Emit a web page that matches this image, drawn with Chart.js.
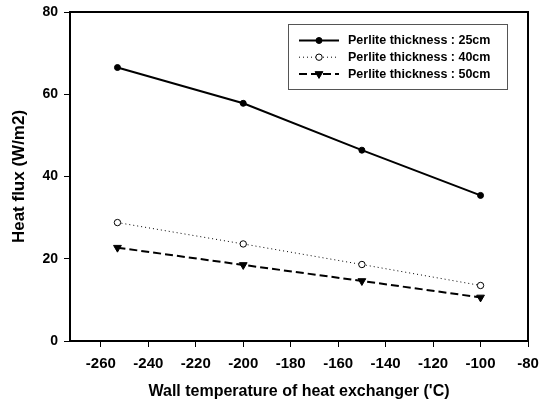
<!DOCTYPE html>
<html>
<head>
<meta charset="utf-8">
<script src="https://cdn.jsdelivr.net/npm/chart.js@4/dist/chart.umd.min.js"></script>
<style>
html,body{margin:0;padding:0;background:#fff;}
#wrap{width:544px;height:404px;position:relative;}
</style>
</head>
<body>
<div id="wrap"><canvas id="c" width="544" height="404"></canvas></div>
<script>
const temps = [-253, -200, -150, -100];
const flux25 = [66.5, 57.8, 46.4, 35.4];
const flux40 = [28.8, 23.6, 18.6, 13.5];
const flux50 = [22.7, 18.5, 14.6, 10.6];
const seriesLabels = ['Perlite thickness : 25cm', 'Perlite thickness : 40cm', 'Perlite thickness : 50cm'];
const xTicks = [-260, -240, -220, -200, -180, -160, -140, -120, -100, -80];
const yTicks = [0, 20, 40, 60, 80];
const xTitle = "Wall temperature of heat exchanger ('C)";
const yTitle = 'Heat flux (W/m2)';

const FONT = 'Liberation Sans, Arial, sans-serif';

function pts(ys){ return temps.map((t,i)=>({x:t,y:ys[i]})); }

const frameLegend = {
  id: 'frameLegend',
  afterDraw(chart){
    const ctx = chart.ctx, a = chart.chartArea;
    ctx.save();
    ctx.strokeStyle = '#000';
    ctx.lineWidth = 2;
    ctx.strokeRect(a.left, a.top, a.right - a.left, a.bottom - a.top);
    // legend box
    const bx = 288, by = 24, bw = 219, bh = 65;
    ctx.lineWidth = 1;
    ctx.strokeStyle = '#555';
    ctx.fillStyle = '#fff';
    ctx.fillRect(bx, by, bw, bh);
    ctx.strokeRect(bx + 0.5, by + 0.5, bw, bh);
    chart.data.datasets.forEach((ds, i) => {
      const y = 40.5 + i * 16.7;
      ctx.save();
      ctx.strokeStyle = '#000';
      ctx.lineWidth = ds.borderWidth;
      ctx.setLineDash(ds.borderDash || []);
      ctx.beginPath();
      ctx.moveTo(299, y);
      ctx.lineTo(339, y);
      ctx.stroke();
      ctx.restore();
      const o = chart.getDatasetMeta(i).data[0].options;
      ctx.save();
      ctx.fillStyle = o.backgroundColor; ctx.strokeStyle = o.borderColor; ctx.lineWidth = o.borderWidth;
      Chart.helpers.drawPoint(ctx, {pointStyle:o.pointStyle, rotation:o.rotation, radius:o.radius, borderWidth:o.borderWidth}, 319, y);
      ctx.restore();
      ctx.fillStyle = '#000';
      ctx.font = 'bold 12.5px ' + FONT;
      ctx.textBaseline = 'middle';
      ctx.textAlign = 'left';
      ctx.fillText(ds.label, 348, y + 0.5);
    });
    ctx.restore();
  }
};

new Chart(document.getElementById('c'), {
  type: 'line',
  data: {
    datasets: [
      { label: seriesLabels[0], data: pts(flux25), borderColor:'#000', backgroundColor:'#000', borderWidth:2,
        pointStyle:'circle', pointRadius:3, pointBackgroundColor:'#000', pointBorderColor:'#000', pointBorderWidth:1 },
      { label: seriesLabels[1], data: pts(flux40), borderColor:'#000', backgroundColor:'#fff', borderWidth:1, borderDash:[1,3],
        pointStyle:'circle', pointRadius:3.2, pointBackgroundColor:'#fff', pointBorderColor:'#000', pointBorderWidth:1 },
      { label: seriesLabels[2], data: pts(flux50), borderColor:'#000', backgroundColor:'#000', borderWidth:2, borderDash:[8,4],
        pointStyle:'triangle', pointRotation:180, pointRadius:4.5, pointBackgroundColor:'#000', pointBorderColor:'#000', pointBorderWidth:1 }
    ]
  },
  options: {
    responsive: false,
    animation: false,
    layout: { padding: { top: 12, right: 16, left: 0, bottom: 0 } },
    plugins: { legend: { display: false }, tooltip: { enabled: false } },
    scales: {
      x: {
        type: 'linear', min: -273, max: -80,
        afterBuildTicks(s){ s.ticks = xTicks.map(v=>({value:v})); },
        afterFit(s){ s.height = 63; s.paddingRight = 0; s.paddingLeft = 0; },
        grid: { display: true, drawOnChartArea: false, drawTicks: true, tickLength: 6, color: '#000', lineWidth: 1 },
        border: { display: true, color: '#000', width: 2 },
        ticks: { color: '#000', font: { family: FONT, size: 15, weight: 'bold' }, padding: 8, maxRotation: 0 },
        title: { display: true, text: xTitle, color: '#000', font: { family: FONT, size: 16, weight: 'bold' }, padding: { top: 4, bottom: 3 } }
      },
      y: {
        type: 'linear', min: 0, max: 80,
        afterBuildTicks(s){ s.ticks = yTicks.map(v=>({value:v})); },
        afterFit(s){ s.width = 70; s.paddingTop = 0; s.paddingBottom = 0; },
        grid: { display: true, drawOnChartArea: false, drawTicks: true, tickLength: 6, color: '#000', lineWidth: 1 },
        border: { display: true, color: '#000', width: 2 },
        ticks: { color: '#000', font: { family: FONT, size: 14, weight: 'bold' }, padding: 6 },
        title: { display: true, text: yTitle, color: '#000', font: { family: FONT, size: 17, weight: 'bold' }, padding: { top: 9, bottom: 4 } }
      }
    }
  },
  plugins: [frameLegend]
});
</script>
</body>
</html>
